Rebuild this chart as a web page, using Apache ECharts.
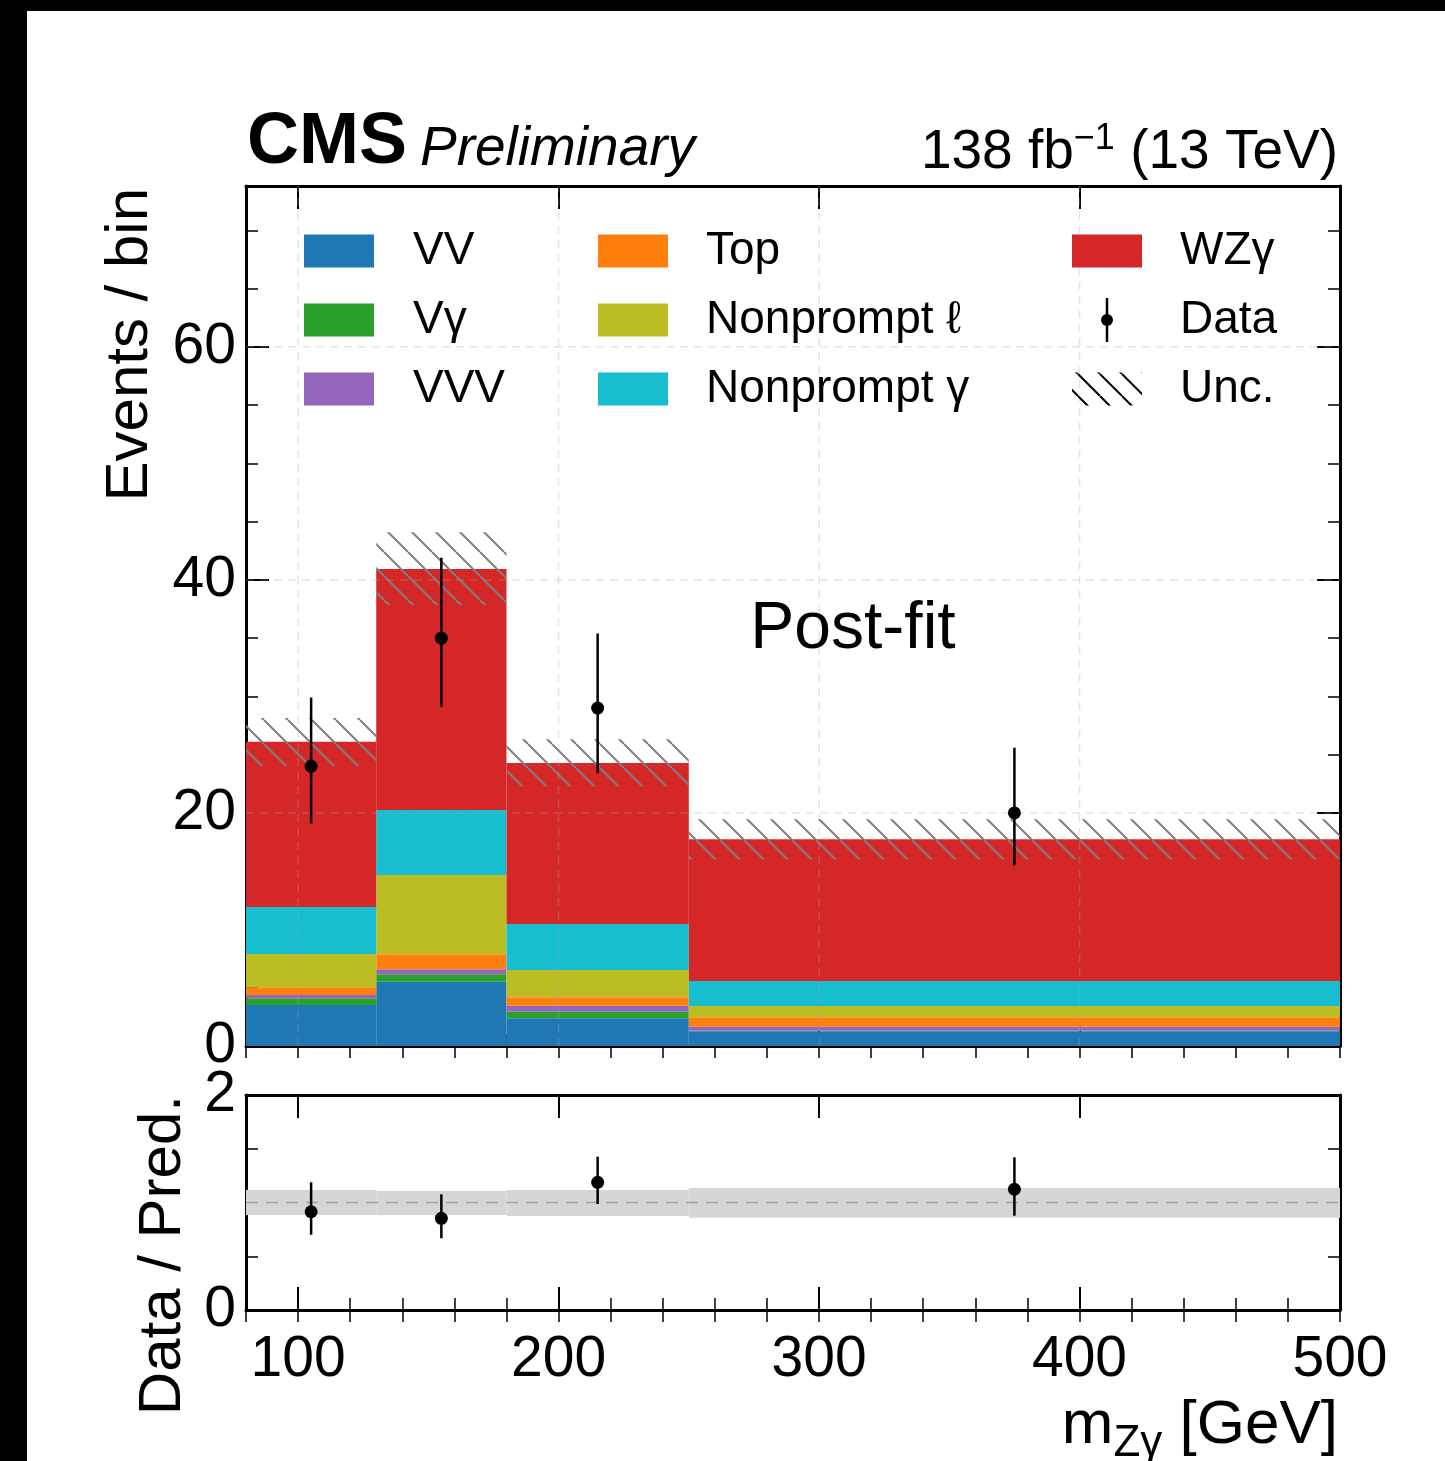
<!DOCTYPE html>
<html>
<head>
<meta charset="utf-8">
<title>WZγ post-fit m(Zγ)</title>
<script src="https://cdn.jsdelivr.net/npm/echarts@6/dist/echarts.min.js"></script>
<style>
  html, body { margin: 0; padding: 0; background: #fff; }
  #chart { width: 1445px; height: 1461px; }
</style>
</head>
<body>
<div id="chart"></div>
<script>
// ---- binning and post-fit yields (events per bin) ----
const binEdges = [80, 130, 180, 250, 500];
const yieldVV = [3.52, 5.52, 2.38, 1.26];
const yieldVgamma = [0.57, 0.63, 0.56, 0.05];
const yieldVVV = [0.29, 0.43, 0.52, 0.35];
const yieldTop = [0.66, 1.29, 0.72, 0.80];
const yieldNonpromptLep = [2.86, 6.81, 2.34, 0.97];
const yieldNonpromptPho = [4.03, 5.58, 3.95, 2.15];
const yieldWZG = [14.17, 20.68, 13.82, 12.16];

// total-prediction uncertainty band
const uncLow = [24.03, 37.85, 22.26, 16.03];
const uncHigh = [28.15, 44.09, 26.33, 19.46];

// observed data with asymmetric errors
const dataCounts = [24, 35, 29, 20];
const dataErrLow = [19.1, 29.1, 23.4, 15.5];
const dataErrHigh = [29.9, 41.9, 35.4, 25.6];

// data / prediction
const ratioValues = [0.914, 0.853, 1.188, 1.123];
const ratioErrLow = [0.700, 0.667, 0.986, 0.877];
const ratioErrHigh = [1.188, 1.076, 1.426, 1.420];
const ratioBandLow = [0.884, 0.884, 0.874, 0.859];
const ratioBandHigh = [1.116, 1.107, 1.116, 1.135];
const ratioReference = 1;

// ticks and gridlines
const xTickLabels = [100, 200, 300, 400, 500];
const yTickLabels = [0, 20, 40, 60];
const ratioTickLabels = [0, 2];
const gridLinesX = [100, 200, 300, 400];
const gridLinesY = [20, 40, 60];

const X_MIN = 80, X_MAX = 500, Y_MAX = 73.8, R_MAX = 2;
const FONT = '"Liberation Sans", Arial, Helvetica, sans-serif';

const processes = [
  { name: 'VV', values: yieldVV, color: '#1f77b4' },
  { name: 'Vγ', values: yieldVgamma, color: '#2ca02c' },
  { name: 'VVV', values: yieldVVV, color: '#9467bd' },
  { name: 'Top', values: yieldTop, color: '#ff7f0e' },
  { name: 'Nonprompt ℓ', values: yieldNonpromptLep, color: '#bcbd22' },
  { name: 'Nonprompt γ', values: yieldNonpromptPho, color: '#17becf' },
  { name: 'WZγ', values: yieldWZG, color: '#d62728' }
];

const binCenters = binEdges.slice(0, -1).map((e, i) => (e + binEdges[i + 1]) / 2);

// diagonal hatch tile
function hatchCanvas(step, color, width) {
  const c = document.createElement('canvas');
  c.width = step; c.height = step;
  const g = c.getContext('2d');
  g.strokeStyle = color; g.lineWidth = width;
  for (const k of [-step, 0, step]) {
    g.beginPath(); g.moveTo(k, 0); g.lineTo(k + step, step); g.stroke();
  }
  return c;
}
const hatchMain = { image: hatchCanvas(24, '#7f7f7f', 2), repeat: 'repeat' };
const hatchKey = { image: hatchCanvas(22, '#000000', 2), repeat: 'repeat' };

const measureCtx = document.createElement('canvas').getContext('2d');
function textWidth(str, size, weight, style) {
  measureCtx.font = (style || 'normal') + ' ' + (weight || 'normal') + ' ' + size + 'px ' + FONT;
  return measureCtx.measureText(str).width;
}

// ---- axes: each panel gets major/minor axes on all four sides ----
function majorAxis(gridIndex, position, min, max, ticks, labels, margin) {
  return {
    type: 'value', gridIndex, position, min, max,
    axisLine: { show: true, onZero: false, lineStyle: { color: '#000', width: 3 } },
    axisTick: { show: true, inside: true, length: 23, customValues: ticks, lineStyle: { color: '#000', width: 2 } },
    axisLabel: labels ? { show: true, customValues: labels, margin, fontSize: 57, color: '#000', fontFamily: FONT } : { show: false },
    splitLine: { show: false }, minorTick: { show: false }, minorSplitLine: { show: false }
  };
}
function minorAxis(gridIndex, position, min, max, interval) {
  return {
    type: 'value', gridIndex, position, min, max, interval,
    axisLine: { show: false },
    axisTick: { show: true, inside: true, length: 12, lineStyle: { color: '#000', width: 1.5 } },
    axisLabel: { show: false },
    splitLine: { show: false }, minorTick: { show: false }
  };
}

const xAxes = [
  majorAxis(0, 'bottom', X_MIN, X_MAX, xTickLabels, null),
  minorAxis(0, 'bottom', X_MIN, X_MAX, 20),
  majorAxis(0, 'top', X_MIN, X_MAX, xTickLabels, null),
  minorAxis(0, 'top', X_MIN, X_MAX, 20),
  majorAxis(1, 'bottom', X_MIN, X_MAX, xTickLabels, xTickLabels, 22),
  minorAxis(1, 'bottom', X_MIN, X_MAX, 20),
  majorAxis(1, 'top', X_MIN, X_MAX, xTickLabels, null),
  minorAxis(1, 'top', X_MIN, X_MAX, 20)
];
const yAxes = [
  majorAxis(0, 'left', 0, Y_MAX, yTickLabels, yTickLabels, 10),
  minorAxis(0, 'left', 0, Y_MAX, 5),
  majorAxis(0, 'right', 0, Y_MAX, yTickLabels, null),
  minorAxis(0, 'right', 0, Y_MAX, 5),
  majorAxis(1, 'left', 0, R_MAX, ratioTickLabels, ratioTickLabels, 10),
  minorAxis(1, 'left', 0, R_MAX, 0.5),
  majorAxis(1, 'right', 0, R_MAX, ratioTickLabels, null),
  minorAxis(1, 'right', 0, R_MAX, 0.5)
];

// ---- series ----
function rectSeries(name, items, fill, panel, z) {
  const ax = panel === 0 ? 0 : 4;
  return {
    type: 'custom', name, xAxisIndex: ax, yAxisIndex: ax, clip: true, silent: true, z,
    encode: { x: [0, 1], y: [2, 3] },
    data: items,
    renderItem(params, api) {
      const a = api.coord([api.value(0), api.value(3)]);
      const b = api.coord([api.value(1), api.value(2)]);
      return { type: 'rect', shape: { x: a[0], y: a[1], width: b[0] - a[0], height: b[1] - a[1] }, style: { fill } };
    }
  };
}

function errorBarSeries(name, centers, lo, hi, panel) {
  const ax = panel === 0 ? 0 : 4;
  return {
    type: 'custom', name, xAxisIndex: ax, yAxisIndex: ax, silent: true, z: 8,
    encode: { x: 0, y: [1, 2] },
    data: centers.map((c, i) => [c, lo[i], hi[i]]),
    renderItem(params, api) {
      const p = api.coord([api.value(0), api.value(1)]);
      const q = api.coord([api.value(0), api.value(2)]);
      return { type: 'line', shape: { x1: p[0], y1: p[1], x2: q[0], y2: q[1] }, style: { stroke: '#000', lineWidth: 2.5 } };
    }
  };
}

const series = [];
const cumulative = binCenters.map(() => 0);
processes.forEach(proc => {
  const items = proc.values.map((v, i) => {
    const lo = cumulative[i];
    cumulative[i] = lo + v;
    return [binEdges[i], binEdges[i + 1], lo, lo + v];
  });
  series.push(rectSeries(proc.name, items, proc.color, 0, 2));
});

series.push(rectSeries('Unc.', uncLow.map((lo, i) => [binEdges[i], binEdges[i + 1], lo, uncHigh[i]]), hatchMain, 0, 3));

// dashed gridlines in the upper panel
series.push({
  type: 'custom', name: 'gridX', xAxisIndex: 0, yAxisIndex: 0, silent: true, z: 4,
  encode: { x: 0 },
  data: gridLinesX.map(v => [v]),
  renderItem(params, api) {
    const p = api.coord([api.value(0), 0]);
    const q = api.coord([api.value(0), Y_MAX]);
    return { type: 'line', shape: { x1: p[0], y1: p[1], x2: q[0], y2: q[1] }, style: { stroke: 'rgba(170,170,170,0.3)', lineWidth: 1.5, lineDash: [8, 6] } };
  }
});
series.push({
  type: 'custom', name: 'gridY', xAxisIndex: 0, yAxisIndex: 0, silent: true, z: 4,
  encode: { y: 0 },
  data: gridLinesY.map(v => [v]),
  renderItem(params, api) {
    const p = api.coord([X_MIN, api.value(0)]);
    const q = api.coord([X_MAX, api.value(0)]);
    return { type: 'line', shape: { x1: p[0], y1: p[1], x2: q[0], y2: q[1] }, style: { stroke: 'rgba(170,170,170,0.3)', lineWidth: 1.5, lineDash: [8, 6] } };
  }
});

series.push(errorBarSeries('Data err', binCenters, dataErrLow, dataErrHigh, 0));
series.push({
  type: 'scatter', name: 'Data', xAxisIndex: 0, yAxisIndex: 0, z: 9, silent: true,
  symbol: 'circle', symbolSize: 13, itemStyle: { color: '#000', opacity: 1 },
  data: binCenters.map((c, i) => [c, dataCounts[i]])
});

// ratio panel
series.push(rectSeries('Ratio unc.', ratioBandLow.map((lo, i) => [binEdges[i], binEdges[i + 1], lo, ratioBandHigh[i]]), '#d6d6d6', 1, 2));
series.push({
  type: 'line', name: 'ref', xAxisIndex: 4, yAxisIndex: 4, z: 3, silent: true,
  showSymbol: false, symbol: 'none',
  lineStyle: { color: '#a3a3a3', width: 1.5, type: [12, 8] },
  data: [[X_MIN, ratioReference], [X_MAX, ratioReference]]
});
series.push(errorBarSeries('Ratio err', binCenters, ratioErrLow, ratioErrHigh, 1));
series.push({
  type: 'scatter', name: 'Ratio', xAxisIndex: 4, yAxisIndex: 4, z: 9, silent: true,
  symbol: 'circle', symbolSize: 13, itemStyle: { color: '#000', opacity: 1 },
  data: binCenters.map((c, i) => [c, ratioValues[i]])
});

// ---- annotations, legend and titles ----
const graphic = [];
function txt(x, y, text, size, opts) {
  opts = opts || {};
  graphic.push({
    type: 'text', x, y, rotation: opts.rotation || 0, z: 100, silent: true,
    style: {
      text, fill: '#000', fontSize: size, fontFamily: FONT,
      fontWeight: opts.weight || 'normal', fontStyle: opts.style || 'normal',
      align: opts.align || 'left', verticalAlign: opts.valign || 'middle'
    }
  });
}

// legend block: three columns
const keyRows = [251, 320, 389];
const keyCols = [[304, 413], [598, 706], [1072, 1180]];
const keyEntries = [
  [0, 0, 'VV'], [0, 1, 'Vγ'], [0, 2, 'VVV'],
  [1, 0, 'Top'], [1, 1, 'Nonprompt ℓ'], [1, 2, 'Nonprompt γ'],
  [2, 0, 'WZγ']
];
keyEntries.forEach(([col, row, name]) => {
  const proc = processes.find(p => p.name === name);
  graphic.push({ type: 'rect', z: 100, silent: true, shape: { x: keyCols[col][0], y: keyRows[row] - 16.5, width: 70, height: 33 }, style: { fill: proc.color } });
  txt(keyCols[col][1], keyRows[row], name, 46);
});
graphic.push({ type: 'line', z: 100, silent: true, shape: { x1: 1107, y1: keyRows[1] - 22, x2: 1107, y2: keyRows[1] + 22 }, style: { stroke: '#000', lineWidth: 2.5 } });
graphic.push({ type: 'circle', z: 100, silent: true, shape: { cx: 1107, cy: keyRows[1], r: 6 }, style: { fill: '#000' } });
txt(keyCols[2][1], keyRows[1], 'Data', 46);
graphic.push({ type: 'rect', z: 100, silent: true, shape: { x: 1072, y: keyRows[2] - 16.5, width: 70, height: 33 }, style: { fill: hatchKey } });
txt(keyCols[2][1], keyRows[2], 'Unc.', 46);

txt(853, 630, 'Post-fit', 66, { align: 'center' });

// experiment label
txt(247, 143, 'CMS', 72, { weight: 'bold' });
txt(420, 150, 'Preliminary', 55, { style: 'italic' });

// luminosity label, right-aligned to the frame
(function () {
  const right = 1338;
  const w3 = textWidth(' (13 TeV)', 55);
  const w2 = textWidth('\u22121', 36);
  txt(right, 153, ' (13 TeV)', 55, { align: 'right' });
  txt(right - w3, 139, '\u22121', 36, { align: 'right' });
  txt(right - w3 - w2, 153, '138 fb', 55, { align: 'right' });
})();

// x-axis title m_Zγ [GeV]
(function () {
  const right = 1338;
  const w3 = textWidth(' [GeV]', 62);
  const w2 = textWidth('Zγ', 44);
  txt(right, 1426, ' [GeV]', 62, { align: 'right' });
  txt(right - w3, 1444, 'Zγ', 44, { align: 'right' });
  txt(right - w3 - w2, 1426, 'm', 62, { align: 'right' });
})();

// y-axis titles
txt(130, 188, 'Events / bin', 60, { rotation: Math.PI / 2, align: 'right' });
txt(163, 1095, 'Data / Pred.', 60, { rotation: Math.PI / 2, align: 'right' });

// page frame strips
graphic.push({ type: 'rect', z: 200, silent: true, shape: { x: 0, y: 0, width: 1445, height: 11 }, style: { fill: '#000' } });
graphic.push({ type: 'rect', z: 200, silent: true, shape: { x: 0, y: 0, width: 27, height: 1461 }, style: { fill: '#000' } });

const chart = echarts.init(document.getElementById('chart'), null, { renderer: 'canvas' });
chart.setOption({
  animation: false,
  backgroundColor: '#ffffff',
  grid: [
    { left: 246, top: 186, width: 1094, height: 860, containLabel: false, outerBoundsMode: 'none' },
    { left: 246, top: 1095, width: 1094, height: 215, containLabel: false, outerBoundsMode: 'none' }
  ],
  xAxis: xAxes,
  yAxis: yAxes,
  series,
  graphic
});
</script>
</body>
</html>
